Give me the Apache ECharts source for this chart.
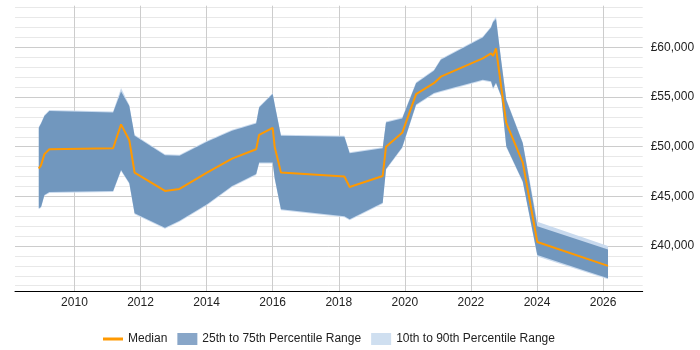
<!DOCTYPE html>
<html>
<head>
<meta charset="utf-8">
<script src="https://cdn.jsdelivr.net/npm/echarts@6/dist/echarts.min.js"></script>
<style>
  html, body { margin: 0; padding: 0; background: #fff; }
  #chart { width: 700px; height: 350px; }
</style>
</head>
<body>
<div id="chart"></div>
<script>
// decimal years of each sample
const years = [2008.92, 2008.99, 2009.09, 2009.24, 2011.17, 2011.41, 2011.66, 2011.82, 2012.74, 2013.18,
  2014.01, 2014.77, 2015.50, 2015.59, 2016.00, 2016.06, 2016.25, 2018.17, 2018.33, 2019.33,
  2019.43, 2019.92, 2020.34, 2020.88, 2021.09, 2022.36, 2022.61, 2022.67, 2022.76, 2022.92,
  2023.07, 2023.57, 2024.01, 2026.15];

const median = [47800, 48150, 49250, 49750, 49850, 52250, 50650, 47400, 45550, 45750,
  47400, 48800, 49750, 51200, 51900, 50000, 47400, 47000, 45950, 47050,
  50000, 51400, 55300, 56400, 57050, 58900, 59400, 59150, 59900, 55950,
  52400, 48400, 40400, 38000];

const p25 = [43800, 43950, 45150, 45450, 45550, 47650, 46350, 43300, 41850, 42550,
  44200, 46050, 47250, 48400, 48400, 46850, 43700, 43000, 42700, 44350,
  47750, 49950, 54250, 55400, 55600, 56750, 56600, 55900, 56450, 55050,
  50050, 46500, 39100, 36750];

const p75 = [51900, 52350, 53100, 53600, 53450, 55550, 54100, 51100, 49150, 49100,
  50500, 51600, 52350, 53950, 55300, 54250, 51100, 51000, 49350, 49850,
  52450, 52850, 56400, 57650, 58750, 61000, 62000, 62550, 62850, 58550,
  54700, 50350, 42000, 39650];

const p10 = [43700, 43850, 45050, 45350, 45450, 47550, 46250, 43200, 41750, 42450,
  44100, 45950, 47150, 48300, 48300, 46750, 43600, 42900, 42600, 44250,
  47650, 49850, 54150, 55300, 55500, 56650, 56500, 55750, 56350, 54950,
  49950, 46400, 38950, 36650];

const p90 = [52000, 52450, 53200, 53700, 53550, 55900, 54200, 51200, 49250, 49200,
  50600, 51700, 52450, 54050, 55400, 54350, 51200, 51100, 49450, 49950,
  52550, 52950, 56500, 57750, 58850, 61100, 62100, 62650, 63100, 58650,
  54800, 50450, 42450, 40000];

const xTickYears = [2010, 2012, 2014, 2016, 2018, 2020, 2022, 2024, 2026];
const yTickValues = [40000, 45000, 50000, 55000, 60000];

const xMin = 2008.2, xMax = 2027.2, xStep = 0.2;
const yMin = 35400, yMax = 64200, yStep = 200;

// split line colours cycle per tick, so build one period of them
const xLineColors = [];
for (let i = 0; i < 10; i++) {
  const v = Math.round((xMin + i * xStep) * 10) / 10;
  xLineColors.push(xTickYears.indexOf(v) >= 0 || xTickYears.indexOf(v - 2) >= 0 ? '#cccccc' : 'rgba(0,0,0,0)');
}
const yLineColors = [];
for (let i = 0; i < 25; i++) {
  const v = yMin + i * yStep;
  if (v % 5000 === 0) yLineColors.push('#cccccc');
  else if (v % 1000 === 0) yLineColors.push('#e8e8e8');
  else yLineColors.push('rgba(0,0,0,0)');
}

const pairs = arr => years.map((x, i) => [x, arr[i]]);
const bandData = (lo, hi) => years.map((x, i) => [x, lo[i], hi[i]]);

// one polygon for the whole band, drawn on the first item
function bandRenderer(fill) {
  return function (params, api) {
    if (params.dataIndex !== 0) return null;
    const n = years.length;
    const top = [], bottom = [];
    for (let i = 0; i < n; i++) {
      top.push(api.coord([api.value(0, i), api.value(2, i)]));
      bottom.push(api.coord([api.value(0, i), api.value(1, i)]));
    }
    return {
      type: 'polygon',
      shape: { points: top.concat(bottom.reverse()) },
      style: { fill: fill, stroke: null }
    };
  };
}

const chart = echarts.init(document.getElementById('chart'));
chart.setOption({
  animation: false,
  textStyle: { fontFamily: 'Liberation Sans, Arial, sans-serif' },
  grid: { left: 15, right: 57.3, top: 5.7, bottom: 58.3 },
  legend: {
    left: 98,
    top: 328,
    itemWidth: 20,
    itemHeight: 12,
    itemGap: 10,
    selectedMode: false,
    textStyle: { fontSize: 12, color: '#222' },
    data: [
      { name: 'Median', icon: 'path://M0,0H20V3H0Z', itemStyle: { color: '#ff9900' } },
      { name: '25th to 75th Percentile Range', icon: 'rect', itemStyle: { color: '#88a6c8' } },
      { name: '10th to 90th Percentile Range', icon: 'rect', itemStyle: { color: '#cfdff0' } }
    ]
  },
  xAxis: {
    type: 'value',
    min: xMin,
    max: xMax,
    interval: xStep,
    axisLine: { lineStyle: { color: '#000', width: 1 } },
    axisTick: { show: false },
    axisLabel: {
      margin: 5,
      fontSize: 12,
      color: '#222',
      formatter: v => {
        const y = Math.round(v * 10) / 10;
        return xTickYears.indexOf(y) >= 0 ? String(y) : '';
      }
    },
    splitLine: { show: true, lineStyle: { color: xLineColors, width: 1 } }
  },
  yAxis: {
    type: 'value',
    position: 'right',
    min: yMin,
    max: yMax,
    interval: yStep,
    axisLine: { show: false },
    axisTick: { show: false },
    axisLabel: {
      margin: 8,
      fontSize: 12,
      color: '#222',
      formatter: v => yTickValues.indexOf(v) >= 0 ? '£' + v.toLocaleString('en-GB') : ''
    },
    splitLine: { show: true, lineStyle: { color: yLineColors, width: 1 } }
  },
  series: [
    {
      name: '10th to 90th Percentile Range', type: 'custom', silent: true,
      data: bandData(p10, p90),
      encode: { x: 0, y: [1, 2] },
      itemStyle: { color: '#cfdff0' },
      renderItem: bandRenderer('#c9daee')
    },
    {
      name: '25th to 75th Percentile Range', type: 'custom', silent: true,
      data: bandData(p25, p75),
      encode: { x: 0, y: [1, 2] },
      itemStyle: { color: '#88a6c8' },
      renderItem: bandRenderer('#7197be')
    },
    {
      name: 'Median', type: 'line', data: pairs(median),
      symbol: 'none', silent: true,
      itemStyle: { color: '#ff9900' },
      lineStyle: { color: '#ff9900', width: 2 }
    }
  ]
});
</script>
</body>
</html>
